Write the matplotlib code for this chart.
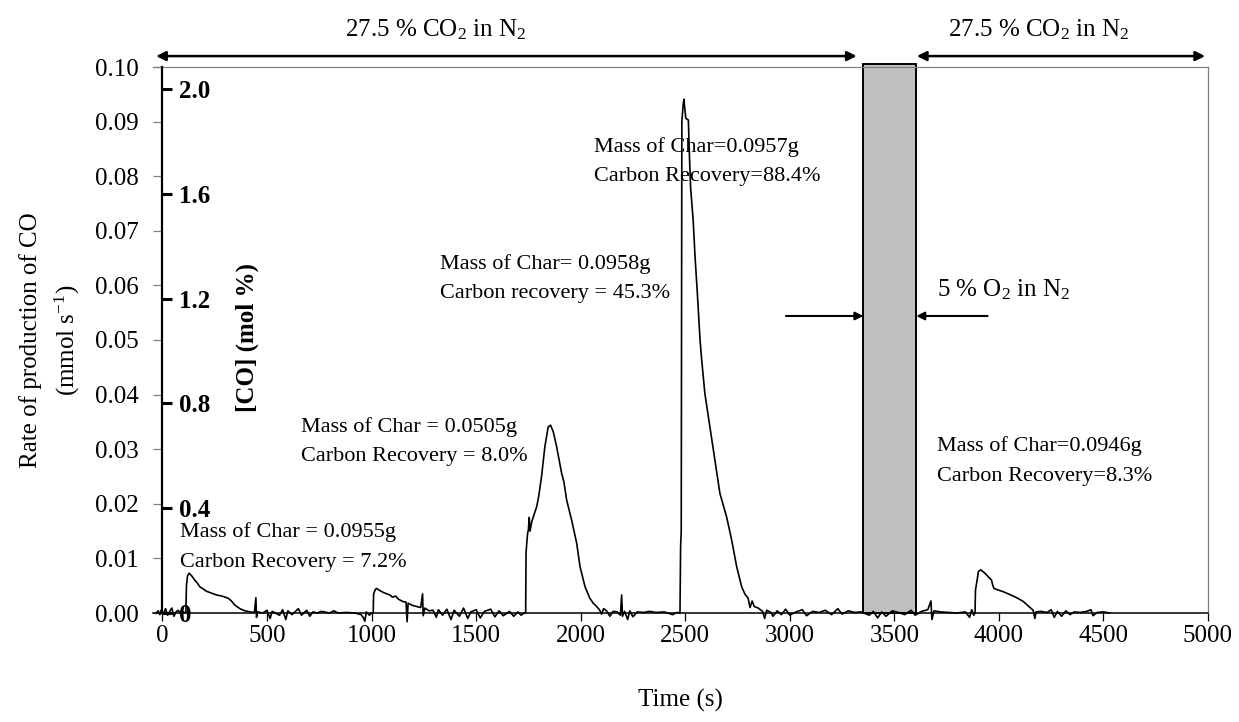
import matplotlib
matplotlib.use("Agg")
import matplotlib.pyplot as plt
from matplotlib.patches import Rectangle

plt.rcParams.update({
    "font.family": "Liberation Serif",
    "mathtext.fontset": "custom",
    "mathtext.rm": "Liberation Serif",
    "mathtext.it": "Liberation Serif:italic",
    "mathtext.bf": "Liberation Serif:bold",
    "axes.unicode_minus": False,
})

# CO production trace (time in s, rate in mmol/s)
TIME_S = [
    -30, -20, -12, -5, 5, 15, 25, 35, 45, 55, 65, 75, 90, 100, 110,
    112, 115, 120, 128, 140, 155, 165, 179, 195, 210, 230, 259, 285, 315, 330,
    345, 355, 375, 395, 420, 440, 447, 450, 455, 480, 500, 515, 525, 560, 575,
    590, 600, 620, 650, 665, 690, 705, 720, 740, 760, 800, 820, 840, 880, 920,
    950, 960, 968, 975, 990, 1000, 1008,
    1010, 1018, 1024, 1040, 1060, 1088, 1100, 1115, 1130, 1150, 1165, 1170, 1175,
    1195, 1216, 1235, 1244, 1247, 1255, 1275, 1294, 1310, 1320, 1340, 1360, 1380,
    1395, 1420, 1440, 1460, 1475, 1500, 1520, 1540, 1570, 1590, 1610, 1630, 1660,
    1680, 1700, 1715, 1730, 1737,
    1739, 1746, 1750, 1754, 1758, 1766, 1790, 1800, 1813, 1829, 1845, 1856, 1869,
    1885, 1909, 1920, 1933, 1957, 1981, 1997, 2021, 2044, 2060, 2076, 2090, 2100,
    2110, 2124, 2140, 2155, 2175, 2190, 2196, 2200, 2210, 2225, 2235, 2250, 2270,
    2300, 2330, 2360, 2400, 2440, 2460, 2475,
    2478, 2481, 2484, 2490, 2494, 2499, 2503, 2515, 2520, 2526, 2538, 2547, 2558,
    2571, 2579, 2594, 2618, 2642, 2666, 2698, 2722, 2746, 2770, 2785, 2801, 2810,
    2820, 2830, 2849, 2870, 2880, 2890, 2910,
    2920, 2940, 2960, 2980, 3000, 3030, 3060, 3080, 3110, 3140, 3170, 3200, 3230,
    3250, 3280, 3310, 3340, 3380, 3400, 3420, 3440, 3460, 3490, 3520, 3550, 3580,
    3600, 3630, 3660, 3675, 3680, 3690, 3720, 3760, 3800, 3840, 3860, 3870, 3880,
    3886,
    3888, 3896, 3902, 3913, 3933, 3950, 3965, 3970, 3976, 3990, 4021, 4045, 4069,
    4090, 4117, 4140, 4164, 4172, 4178, 4200, 4230, 4250, 4265, 4280, 4300, 4320,
    4340, 4360, 4390, 4420, 4440, 4450, 4470, 4500, 4530,
]
CO_RATE = [
    0.0, 0.0004, -0.0003, 0.0006, -0.0002, 0.0008, -0.0004, 0.0003, 0.0009, -0.0006, 0.0002, 0.0005, -0.0003, 0.0002, 0.0,
    0.0, 0.0050, 0.0068, 0.0073, 0.0068, 0.0060, 0.0056, 0.0048, 0.0044, 0.0040, 0.0037, 0.0033, 0.0031, 0.0027, 0.0022,
    0.0015, 0.0012, 0.0007, 0.0004, 0.0002, 0.0001, 0.0028, -0.0008, 0.0002, 0.0, 0.0005, -0.0010, 0.0003, -0.0004, 0.0006,
    -0.0012, 0.0004, -0.0003, 0.0008, -0.0004, 0.0005, -0.0006, 0.0002, 0.0, 0.0003, 0.0, 0.0004, 0.0, 0.0001, 0.0,
    -0.0003, -0.0008, -0.0015, 0.0002, -0.0004, 0.0, 0.0,
    0.0035, 0.0043, 0.0045, 0.0041, 0.0037, 0.0033, 0.0029, 0.0031, 0.0025, 0.0021, 0.0020, -0.0016, 0.0018,
    0.0014, 0.0012, 0.0010, 0.0035, -0.0005, 0.0009, 0.0004, 0.0005, -0.0008, 0.0006, -0.0004, 0.0007, -0.0012,
    0.0005, -0.0006, 0.0009, -0.0010, 0.0002, 0.0006, -0.0009, 0.0003, 0.0007, -0.0007, 0.0004, -0.0005, 0.0003,
    -0.0006, 0.0002, -0.0004, 0.0, 0.0,
    0.0111, 0.0145, 0.0152, 0.0175, 0.0150, 0.0167, 0.0195, 0.0215, 0.0250, 0.0305, 0.0341, 0.0344, 0.0332,
    0.0305, 0.0256, 0.0240, 0.0207, 0.0170, 0.0128, 0.0085, 0.0048, 0.0027, 0.0018, 0.0012, 0.0006, -0.0002,
    0.0008, 0.0004, -0.0006, 0.0003, 0.0002, -0.0004, 0.0033, -0.0006, 0.0003, -0.0012, 0.0004, -0.0007, 0.0002,
    0.0001, 0.0003, 0.0001, 0.0002, -0.0003, 0.0001, 0.0,
    0.0121, 0.0150, 0.0900, 0.0930, 0.0941, 0.0920, 0.0906, 0.0903, 0.0840, 0.0778, 0.0720, 0.0653, 0.0586,
    0.0500, 0.0463, 0.0402, 0.0341, 0.0280, 0.0219, 0.0176, 0.0134, 0.0085, 0.0048, 0.0035, 0.0027, 0.0010,
    0.0022, 0.0012, 0.0009, 0.0003, -0.0010, 0.0005, 0.0001,
    -0.0006, 0.0004, -0.0003, 0.0007, -0.0004, 0.0002, 0.0006, -0.0005, 0.0003, 0.0001, 0.0005, -0.0003, 0.0008,
    -0.0002, 0.0004, 0.0001, 0.0002, -0.0004, 0.0003, -0.0009, 0.0002, -0.0006, 0.0004, 0.0001, -0.0003, 0.0005,
    -0.0004, 0.0003, 0.0006, 0.0022, -0.0012, 0.0004, 0.0002, 0.0001, 0.0, 0.0002, -0.0008, 0.0006, -0.0004,
    0.0,
    0.0042, 0.0060, 0.0076, 0.0079, 0.0073, 0.0066, 0.0060, 0.0052, 0.0045, 0.0043, 0.0039, 0.0035, 0.0031,
    0.0027, 0.0021, 0.0013, 0.0005, -0.0010, 0.0002, 0.0003, 0.0001, 0.0006, -0.0008, 0.0003, -0.0006, 0.0004,
    -0.0003, 0.0002, 0.0001, 0.0003, 0.0006, -0.0005, 0.0001, 0.0002, 0.0,
]

X_TICKS = [0, 500, 1000, 1500, 2000, 2500, 3000, 3500, 4000, 4500, 5000]
RATE_TICKS = [0.00, 0.01, 0.02, 0.03, 0.04, 0.05, 0.06, 0.07, 0.08, 0.09, 0.10]
CO_TICKS = [0.0, 0.4, 0.8, 1.2, 1.6, 2.0]
CO_TICK_LABELS = ["0", "0.4", "0.8", "1.2", "1.6", "2.0"]

# oxidation window (5 % O2 in N2)
O2_START, O2_END = 3352, 3605

# run annotations: left edge time, rate of the first and second line
NOTE_T = [84, 661, 1327, 2064, 3704]
NOTE_LINE1_Y = [0.0148, 0.0341, 0.0640, 0.0854, 0.0305]
NOTE_LINE2_Y = [0.0093, 0.0286, 0.0586, 0.0799, 0.0250]
NOTE_LINE1 = [
    "Mass of Char = 0.0955g",
    "Mass of Char = 0.0505g",
    "Mass of Char= 0.0958g",
    "Mass of Char=0.0957g",
    "Mass of Char=0.0946g",
]
NOTE_LINE2 = [
    "Carbon Recovery = 7.2%",
    "Carbon Recovery = 8.0%",
    "Carbon recovery = 45.3%",
    "Carbon Recovery=88.4%",
    "Carbon Recovery=8.3%",
]

GREY = "#808080"
W, H = 1239, 722

fig = plt.figure(figsize=(W / 100, H / 100), dpi=100)
ax = fig.add_axes([153 / W, 1 - 613 / H, (1208 - 153) / W, (613 - 67) / H])

ax.add_patch(Rectangle((O2_START, 0), O2_END - O2_START, 0.1006,
                       facecolor="#c0c0c0", edgecolor="black", linewidth=1.4,
                       zorder=1, clip_on=False))
ax.plot(TIME_S, CO_RATE, color="black", linewidth=1.2, zorder=3, clip_on=False)

ax.set_xlim(-45, 5000)
ax.set_ylim(0, 0.10)
ax.set_xticks(X_TICKS)
ax.set_yticks(RATE_TICKS, [f"{v:.2f}" for v in RATE_TICKS])
ax.tick_params(axis="x", direction="out", length=6, width=0.9, pad=3, labelsize=18)
ax.tick_params(axis="y", direction="in", length=6.5, width=0.9, color=GREY,
               pad=10.5, labelsize=18)
ax.spines["left"].set_visible(False)
for side in ("top", "right"):
    ax.spines[side].set_color(GREY)
    ax.spines[side].set_linewidth(0.9)
ax.spines["bottom"].set_linewidth(1.1)
ax.set_xlabel("Time (s)", fontsize=18, labelpad=30)

# secondary [CO] axis sitting on t = 0
ax2 = ax.twinx()
ax2.set_ylim(0, 2.084)
ax2.spines["right"].set_position(("data", 0))
ax2.spines["right"].set_linewidth(1.6)
for side in ("top", "left", "bottom"):
    ax2.spines[side].set_visible(False)
ax2.set_yticks(CO_TICKS, CO_TICK_LABELS, fontweight="bold")
ax2.tick_params(axis="y", direction="out", length=7, width=2.2, pad=5, labelsize=18)

fig.text(31 / W, 1 - 340 / H, "Rate of production of CO", rotation=90,
         ha="center", va="center", fontsize=18)
fig.text(67 / W, 1 - 340 / H, "(mmol s$^{\\mathregular{-1}}$)", rotation=90,
         ha="center", va="center", fontsize=18)
fig.text(247 / W, 1 - 338 / H, "[CO] (mol %)", rotation=90, ha="center",
         va="center", fontsize=18, fontweight="bold")

# gas atmosphere arrows above the plot
top = ax.get_xaxis_transform()
arrow = dict(arrowstyle="<|-|>", color="black", lw=1.8, mutation_scale=14,
             shrinkA=0, shrinkB=0)
ax.annotate("", xy=(-30, 1.020), xytext=(3320, 1.020), xycoords=top,
            textcoords=top, arrowprops=arrow, annotation_clip=False)
ax.annotate("", xy=(3608, 1.020), xytext=(4986, 1.020), xycoords=top,
            textcoords=top, arrowprops=arrow, annotation_clip=False)
co2_text = "27.5 % CO$_\\mathregular{2}$ in N$_\\mathregular{2}$"
ax.text(1305, 1.056, co2_text, transform=top, ha="center", va="baseline", fontsize=18)
ax.text(4192, 1.056, co2_text, transform=top, ha="center", va="baseline", fontsize=18)

# 5 % O2 window markers
side_arrow = dict(arrowstyle="-|>", color="black", lw=1.5, mutation_scale=12,
                  shrinkA=0, shrinkB=0)
ax.annotate("", xy=(O2_START, 0.0544), xytext=(2982, 0.0544), arrowprops=side_arrow)
ax.annotate("", xy=(O2_END, 0.0544), xytext=(3946, 0.0544), arrowprops=side_arrow)
ax.text(3704, 0.0593, "5 % O$_\\mathregular{2}$ in N$_\\mathregular{2}$",
        ha="left", va="center", fontsize=18)

for t, y1, y2, s1, s2 in zip(NOTE_T, NOTE_LINE1_Y, NOTE_LINE2_Y, NOTE_LINE1, NOTE_LINE2):
    ax.text(t, y1, s1, ha="left", va="center", fontsize=16, zorder=4)
    ax.text(t, y2, s2, ha="left", va="center", fontsize=16, zorder=4)

fig.savefig("out.png", dpi=100)
